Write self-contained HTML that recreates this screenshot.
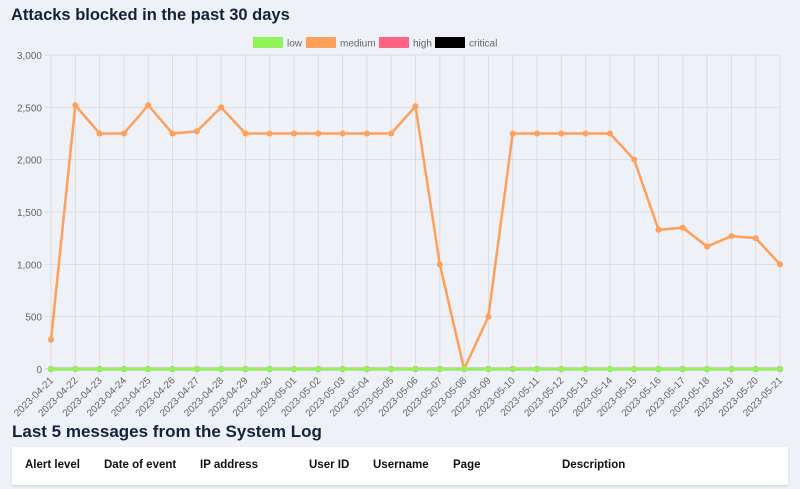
<!DOCTYPE html>
<html><head><meta charset="utf-8"><style>
body{margin:0;width:800px;height:489px;background:#eef2f8;font-family:"Liberation Sans",sans-serif;overflow:hidden;position:relative}
h2{position:absolute;margin:0;font-weight:bold;color:#14213d}
#t1{left:11px;top:6px;font-size:16.5px}
#t2{left:12px;top:422px;font-size:17px}
#tbl{position:absolute;left:12px;top:447px;width:776px;height:38px;background:#fff;box-shadow:0 1px 2px #ccc}
#tbl span{position:absolute;top:12px;font-size:11.5px;font-weight:bold;color:#111}
</style></head><body>
<h2 id="t1">Attacks blocked in the past 30 days</h2>
<svg id="chart" width="800" height="420" style="position:absolute;left:0;top:0"></svg>
<h2 id="t2">Last 5 messages from the System Log</h2>
<div id="tbl">
<span style="left:13px">Alert level</span>
<span style="left:92px">Date of event</span>
<span style="left:188px">IP address</span>
<span style="left:297px">User ID</span>
<span style="left:361px">Username</span>
<span style="left:441px">Page</span>
<span style="left:550px">Description</span>
</div>
<script>
const categories=["2023-04-21","2023-04-22","2023-04-23","2023-04-24","2023-04-25","2023-04-26","2023-04-27","2023-04-28","2023-04-29","2023-04-30","2023-05-01","2023-05-02","2023-05-03","2023-05-04","2023-05-05","2023-05-06","2023-05-07","2023-05-08","2023-05-09","2023-05-10","2023-05-11","2023-05-12","2023-05-13","2023-05-14","2023-05-15","2023-05-16","2023-05-17","2023-05-18","2023-05-19","2023-05-20","2023-05-21"];
const lowValues=[0,0,0,0,0,0,0,0,0,0,0,0,0,0,0,0,0,0,0,0,0,0,0,0,0,0,0,0,0,0,0];
const mediumValues=[280,2520,2250,2250,2520,2250,2270,2500,2250,2250,2250,2250,2250,2250,2250,2510,1000,0,500,2250,2250,2250,2250,2250,2000,1330,1350,1170,1270,1250,1000];
const highValues=[0,0,0,0,0,0,0,0,0,0,0,0,0,0,0,0,0,0,0,0,0,0,0,0,0,0,0,0,0,0,0];
const criticalValues=[0,0,0,0,0,0,0,0,0,0,0,0,0,0,0,0,0,0,0,0,0,0,0,0,0,0,0,0,0,0,0];
const yTicks=[0,500,1000,1500,2000,2500,3000];
const yTickLabels=["0","500","1,000","1,500","2,000","2,500","3,000"];
const legendNames=["low","medium","high","critical"];
const legendColors=["#91f55a","#ff9f5a","#ff6384","#000000"];
const NS="http://www.w3.org/2000/svg";
const svg=document.getElementById('chart');
const X0=51,X1=780,Y0=369,Y1=55,YMAX=3000;
function xs(i){return X0+i*(X1-X0)/(categories.length-1);}
function ys(v){return Y0-v/YMAX*(Y0-Y1);}
function mk(t,a){const e=document.createElementNS(NS,t);for(const k in a)e.setAttribute(k,a[k]);svg.appendChild(e);return e;}
yTicks.forEach((v,i)=>{
 const l=mk('line',{x1:X0-6,x2:X1,y1:ys(v),y2:ys(v),stroke:v===0?'#c8c8c8':'#dcdcdc','stroke-width':1});
 
 
 const t=mk('text',{x:X0-9,y:ys(v)+4,'text-anchor':'end','font-size':10,fill:'#666'});
 t.textContent=yTickLabels[i];
 
 
});
categories.forEach((c,i)=>{
 const l=mk('line',{x1:xs(i),x2:xs(i),y1:Y1,y2:Y0+6,stroke:'#dcdcdc','stroke-width':1});
 
 
 const t=mk('text',{x:xs(i)+3,y:Y0+12,'text-anchor':'end','font-size':10,fill:'#666',transform:`rotate(-45 ${xs(i)+3} ${Y0+12})`});
 t.textContent=c;
 
 
});
function series(vals,color,name){
 const p=mk('polyline',{points:vals.map((v,i)=>xs(i)+','+ys(v)).join(' '),fill:'none',stroke:color,'stroke-width':2.5});
 
 
 vals.forEach((v,i)=>{
  const c=mk('circle',{cx:xs(i),cy:ys(v),r:3,fill:color});
  
  
 });
}
series(criticalValues,legendColors[3],'critical');
series(highValues,legendColors[2],'high');
series(mediumValues,legendColors[1],'medium');
series(lowValues,legendColors[0],'low');
const swX=[253,306,379,435];
legendNames.forEach((n,i)=>{
 const r=mk('rect',{x:swX[i],y:37,width:30,height:11,fill:legendColors[i]});
 
 
 const t=mk('text',{x:swX[i]+34,y:46.5,'font-size':10,fill:'#666'});
 t.textContent=n;
 
 
});
</script>
</body></html>
